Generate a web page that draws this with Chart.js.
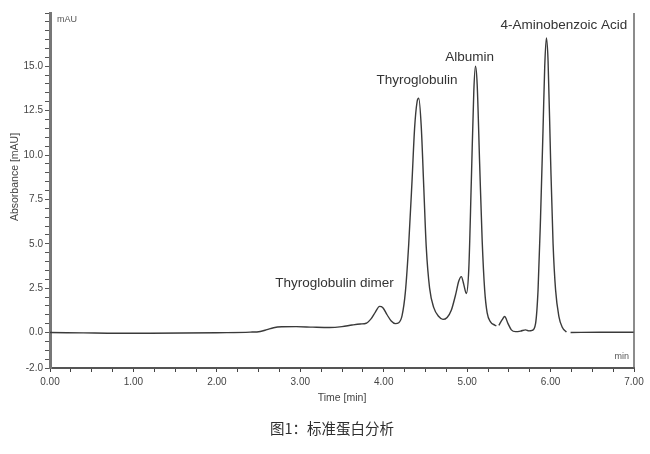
<!DOCTYPE html>
<html>
<head>
<meta charset="utf-8">
<script src="https://cdn.jsdelivr.net/npm/chart.js@4.4.1/dist/chart.umd.min.js"></script>
<style>
  html, body { margin: 0; padding: 0; background: #fff; }
  #wrap { width: 650px; height: 454px; }
</style>
</head>
<body>
<div id="wrap"><canvas id="chromChart" width="650" height="454"></canvas></div>
<script>
// chromatogram (min, mAU); null = break in the trace
const times = [
  0.00, 0.40, 0.80, 1.20, 1.60, 2.00, 2.40, 2.52, 2.60, 2.68, 2.78, 2.95, 3.15, 3.35, 3.50,
  3.62, 3.72, 3.79, 3.85, 3.90, 3.95, 3.99, 4.04, 4.09, 4.14, 4.18, 4.22, 4.26, 4.30, 4.34,
  4.37, 4.40, 4.42, 4.45, 4.48, 4.51, 4.55, 4.60, 4.66, 4.71, 4.76, 4.81, 4.86, 4.90, 4.93,
  4.96, 4.99, 5.02, 5.05, 5.08, 5.10, 5.12, 5.15, 5.18, 5.21, 5.24, 5.28, 5.33, 5.35, 5.365,
  5.38, 5.42, 5.45, 5.49, 5.53, 5.58, 5.64, 5.70, 5.74, 5.78, 5.82, 5.85, 5.88, 5.91, 5.93,
  5.95, 5.97, 6.00, 6.03, 6.06, 6.10, 6.14, 6.19, 6.21, 6.24, 6.60, 7.00
];
const absorbance = [
  0.00, -0.02, -0.04, -0.04, -0.03, -0.01, 0.02, 0.06, 0.16, 0.27, 0.32, 0.33, 0.30, 0.28, 0.33,
  0.42, 0.48, 0.52, 0.78, 1.15, 1.47, 1.40, 1.00, 0.65, 0.50, 0.55, 0.95, 2.30, 5.00, 8.60,
  11.50, 13.00, 13.20, 11.60, 8.20, 4.80, 2.50, 1.40, 0.90, 0.74, 0.85, 1.25, 2.10, 2.90, 3.15,
  2.70, 2.20, 3.60, 8.50, 13.60, 15.00, 14.00, 9.50, 5.20, 2.40, 1.10, 0.60, 0.42, 0.38, null,
  0.40, 0.72, 0.90, 0.50, 0.15, 0.05, 0.08, 0.15, 0.09, 0.12, 0.50, 2.40, 6.50, 11.50, 15.00,
  16.60, 15.30, 9.80, 5.00, 2.40, 0.90, 0.30, 0.02, null, 0.00, 0.01, 0.01
];

const peakNames = ['Thyroglobulin dimer', 'Thyroglobulin', 'Albumin', '4-Aminobenzoic Acid'];
const peakLabelTimes = [3.41, 4.40, 5.03, 6.16];
const peakLabelValues = [2.77, 14.2, 15.5, 17.3];

const xLabels = [0, 1, 2, 3, 4, 5, 6, 7];
const yLabels = [-2, 0, 2.5, 5, 7.5, 10, 12.5, 15];

const xTickValues = [];
for (let i = 0; i <= 28; i++) xTickValues.push(i * 0.25);
const yTickValues = [];
for (let i = 0; i <= 40; i++) yTickValues.push(-2 + i * 0.5);

const axisFont = '"Liberation Sans", Arial, sans-serif';
const narrowFont = '"Liberation Sans Narrow", "Liberation Sans", Arial';

const extras = {
  id: 'extras',
  afterDraw(chart) {
    const { ctx, chartArea, scales: { x, y } } = chart;
    ctx.save();

    ctx.strokeStyle = '#666';
    ctx.lineWidth = 1.5;
    ctx.beginPath();
    ctx.moveTo(chartArea.right, chartArea.top);
    ctx.lineTo(chartArea.right, chartArea.bottom);
    ctx.stroke();

    ctx.fillStyle = '#333';
    ctx.font = '13.5px ' + axisFont;
    ctx.textAlign = 'center';
    ctx.textBaseline = 'middle';
    peakNames.forEach((name, i) => {
      ctx.fillText(name, x.getPixelForValue(peakLabelTimes[i]), y.getPixelForValue(peakLabelValues[i]));
    });

    ctx.fillStyle = '#555';
    ctx.font = '9px ' + narrowFont;
    ctx.textAlign = 'left';
    ctx.fillText('mAU', chartArea.left + 7, chartArea.top + 7);
    ctx.textAlign = 'right';
    ctx.fillText('min', chartArea.right - 5, chartArea.bottom - 11);

    ctx.save();
    ctx.translate(15, 177);
    ctx.rotate(-Math.PI / 2);
    ctx.textAlign = 'center';
    ctx.font = '10.5px ' + axisFont;
    ctx.fillStyle = '#444';
    ctx.fillText('Absorbance [mAU]', 0, 0);
    ctx.restore();

    ctx.fillStyle = '#2e2e2e';
    ctx.font = '14.5px "Noto Sans CJK SC", sans-serif';
    ctx.textAlign = 'center';
    ctx.fillText('图1：标准蛋白分析', 332, 428);
    ctx.restore();
  }
};

const ctx = document.getElementById('chromChart').getContext('2d');

new Chart(ctx, {
  type: 'line',
  data: {
    datasets: [{
      data: times.map((t, i) => ({ x: t, y: absorbance[i] })),
      borderColor: '#3a3a3a',
      borderWidth: 1.4,
      pointRadius: 0,
      cubicInterpolationMode: 'monotone',
      spanGaps: false,
      fill: false
    }]
  },
  options: {
    responsive: false,
    animation: false,
    layout: {
      padding: { top: 13, right: 16, bottom: 0, left: 0 }
    },
    plugins: {
      legend: { display: false },
      tooltip: { enabled: false }
    },
    scales: {
      x: {
        type: 'linear',
        min: 0,
        max: 7,
        afterBuildTicks: scale => {
          scale.ticks = xTickValues.map(value => ({ value }));
        },
        afterFit: scale => {
          scale.height = 86;
        },
        ticks: {
          autoSkip: false,
          maxRotation: 0,
          padding: 4,
          color: '#444',
          font: { family: narrowFont, size: 10 },
          callback: value => xLabels.includes(value) ? value.toFixed(2) : ''
        },
        grid: {
          drawOnChartArea: false,
          drawTicks: true,
          tickLength: 4,
          tickColor: '#444'
        },
        border: { display: true, color: '#555', width: 2 },
        title: {
          display: true,
          text: 'Time [min]',
          color: '#444',
          font: { family: narrowFont, size: 10.5 },
          padding: { top: 0, bottom: 50 }
        }
      },
      y: {
        type: 'linear',
        min: -2,
        max: 18,
        afterBuildTicks: scale => {
          scale.ticks = yTickValues.map(value => ({ value }));
        },
        afterFit: scale => {
          scale.width = 50;
        },
        ticks: {
          autoSkip: false,
          padding: 2,
          color: '#444',
          font: { family: narrowFont, size: 10 },
          callback: value => yLabels.includes(value) ? value.toFixed(1) : ''
        },
        grid: {
          drawOnChartArea: false,
          drawTicks: true,
          tickLength: 5,
          tickColor: '#555'
        },
        border: { display: true, color: '#777', width: 3 }
      }
    }
  },
  plugins: [extras]
});
</script>
</body>
</html>
